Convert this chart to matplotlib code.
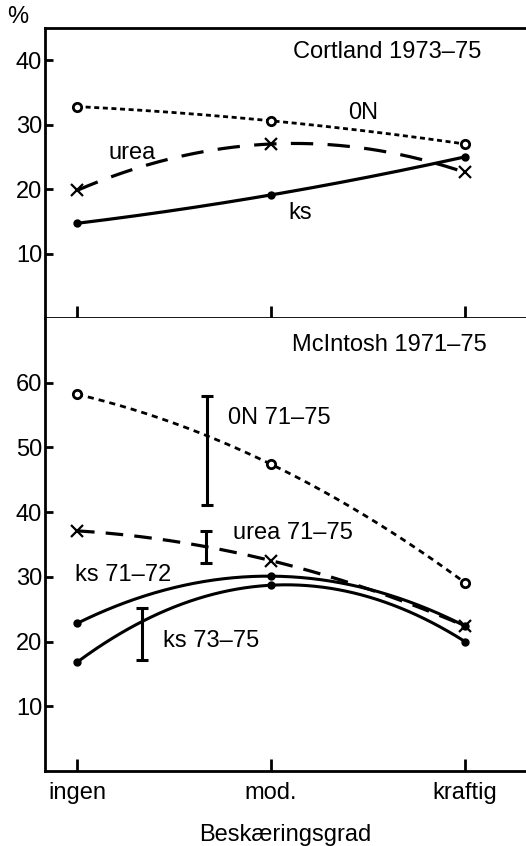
"""
Beskaeringsgrad plot - Cortland and McIntosh panels.
"""
# Library import
import numpy as np
import matplotlib
matplotlib.use("Agg")
import matplotlib.pyplot as plt

# Font config
plt.rcParams["font.family"] = ["Liberation Sans", "DejaVu Sans"]
plt.rcParams["font.size"] = 17

# Data
categories = ["ingen", "mod.", "kraftig"]
xpos = np.arange(len(categories))

# Cortland 1973-75
cort_0n = [32.8, 30.6, 27.0]
cort_urea = [19.8, 27.0, 22.6]
cort_ks = [14.7, 19.1, 25.0]

# McIntosh 1971-75
mci_0n = [58.2, 47.4, 29.1]
mci_urea = [37.1, 32.5, 22.4]
mci_ks7172 = [22.8, 30.1, 22.4]
mci_ks7375 = [16.8, 28.7, 20.0]

# Error bars (x position, low, high)
err_x = [0.67, 0.665, 0.335]
err_lo = [41.1, 32.2, 17.2]
err_hi = [58.0, 37.1, 25.2]

top_yticks = [10, 20, 30, 40]
bot_yticks = [10, 20, 30, 40, 50, 60]


# Smooth curve through the three points
def smooth(ax, vals, ls, marker, mfc, ms, mew, lw=2.0):
    coef = np.polyfit(xpos, vals, 2)
    xs = np.linspace(xpos[0], xpos[-1], 200)
    ax.plot(xs, np.polyval(coef, xs), color="black", lw=lw, linestyle=ls,
            solid_capstyle="butt", dash_capstyle="butt")
    ax.plot(xpos, vals, linestyle="none", marker=marker, color="black",
            mfc=mfc, ms=ms, mew=mew)


def style_axis(ax, ymax, yticks):
    ax.set_xlim(-0.165, 2.315)
    ax.set_ylim(0, ymax)
    ax.set_yticks(yticks)
    ax.set_xticks(xpos)
    ax.spines["right"].set_visible(False)
    for s in ["left", "top", "bottom"]:
        ax.spines[s].set_linewidth(2.0)
    ax.tick_params(axis="y", direction="in", length=6, width=2, pad=2)
    ax.tick_params(axis="x", direction="in", length=9, width=2, pad=8)


fig = plt.figure(figsize=(5.26, 8.46), dpi=100)
ax1 = fig.add_axes([0.0856, 0.624, 0.9144, 0.343])
ax2 = fig.add_axes([0.0856, 0.0887, 0.9144, 0.5355])

# Top panel
style_axis(ax1, 45, top_yticks)
ax1.set_xticklabels([])
smooth(ax1, cort_0n, (0, (1.8, 1.3)), "o", "white", 6, 2)
smooth(ax1, cort_urea, (0, (7, 4.5)), "x", "black", 8, 1.6, lw=2.3)
smooth(ax1, cort_ks, "-", "o", "black", 5, 1, lw=2.3)
ax1.text(1.113, 41.3, "Cortland 1973–75", va="center", ha="left")
ax1.text(1.397, 31.8, "0N", va="center", ha="left")
ax1.text(0.16, 25.6, "urea", va="center", ha="left")
ax1.text(1.088, 16.3, "ks", va="center", ha="left")

# Bottom panel
style_axis(ax2, 70, bot_yticks)
ax2.spines["top"].set_visible(False)
ax2.set_xticklabels(categories)
smooth(ax2, mci_0n, (0, (2.2, 1.8)), "o", "white", 6, 2)
smooth(ax2, mci_urea, (0, (5.5, 3.5)), "x", "black", 8, 1.6, lw=2.3)
smooth(ax2, mci_ks7172, "-", "o", "black", 5, 1, lw=2.2)
smooth(ax2, mci_ks7375, "-", "o", "black", 5, 1, lw=2.2)

# Error bars
for x, lo, hi in zip(err_x, err_lo, err_hi):
    ax2.errorbar(x, (lo + hi) / 2, yerr=(hi - lo) / 2, fmt="none",
                 ecolor="black", elinewidth=2.2, capsize=4, capthick=2.2)

ax2.text(1.108, 65.8, "McIntosh 1971–75", va="center", ha="left")
ax2.text(0.778, 54.6, "0N 71–75", va="center", ha="left")
ax2.text(0.804, 36.8, "urea 71–75", va="center", ha="left")
ax2.text(-0.01, 30.3, "ks 71–72", va="center", ha="left")
ax2.text(0.443, 20.1, "ks 73–75", va="center", ha="left")
ax2.set_xlabel("Beskæringsgrad", labelpad=14)

fig.text(0.013, 0.98, "%", va="center", ha="left")

plt.savefig("out.png", dpi=100)
plt.close()
